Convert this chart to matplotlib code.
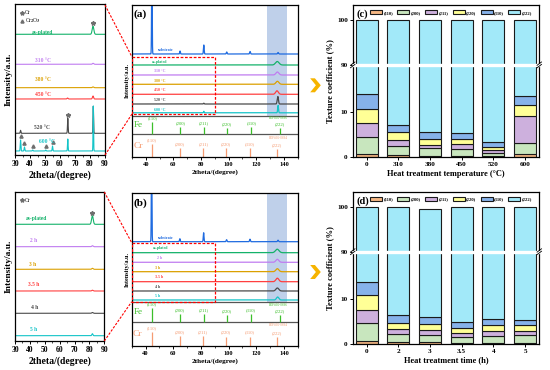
import numpy as np
import matplotlib
matplotlib.use('Agg')
import matplotlib.pyplot as plt
from matplotlib.patches import Polygon, Rectangle
from matplotlib.lines import Line2D
from matplotlib.ticker import MultipleLocator

plt.rcParams['font.family'] = ['Liberation Serif', 'DejaVu Serif']
plt.rcParams['font.weight'] = 'bold'
plt.rcParams['axes.labelweight'] = 'bold'
plt.rcParams['mathtext.fontset'] = 'stix'
plt.rcParams['axes.linewidth'] = 0.9

# ======================= DATA =======================
temp_labels = ['as-plated', '310 °C', '380 °C', '450 °C', '520 °C', '600 °C']
time_labels = ['as-plated', '2 h', '3 h', '3.5 h', '4 h', '5 h']

# peaks (2theta, intensity a.u., fwhm) in the 30-90 deg zoomed patterns
pk_t_asplated = [(82.0, 8.0, 1.3)]
pk_t_310 = [(82.0, 1.0, 1.0)]
pk_t_380 = [(82.0, 0.8, 1.0)]
pk_t_450 = [(65.0, 1.0, 0.8), (82.0, 3.0, 0.9)]
pk_t_520 = [(33.7, 3.0, 0.5), (65.2, 15.0, 0.5), (82.2, 27.0, 0.45)]
pk_t_600 = [(33.7, 11.0, 0.5), (36.3, 4.0, 0.5), (41.8, 1.0, 0.5), (50.5, 1.0, 0.5),
            (55.0, 5.0, 0.5), (65.2, 12.0, 0.45), (82.2, 45.0, 0.4)]
pk_h_asplated = [(82.0, 8.6, 1.3)]
pk_h_2 = [(82.0, 1.0, 1.0)]
pk_h_3 = [(82.0, 1.0, 1.0)]
pk_h_35 = [(82.0, 0.8, 1.0)]
pk_h_4 = [(82.0, 0.8, 1.0)]
pk_h_5 = [(82.0, 2.0, 0.8)]

cr_star_temp = {'as-plated': 82.0, '520 °C': 65.2}
cr2o3_tri_600 = [33.7, 36.3, 41.8, 50.5, 55.0]
cr_star_time = {'as-plated': 82.0}

# peaks in the full 30-150 deg patterns
pk_substrate = [(44.4, 90.0, 0.5), (64.8, 3.0, 0.6), (82.0, 9.0, 0.6),
                (98.6, 2.0, 0.7), (115.5, 2.5, 0.7), (135.8, 1.5, 0.8)]
fa_asplated = [(135.2, 3.5, 3.0)]
fa_310 = [(135.3, 3.0, 2.5)]
fa_380 = [(135.3, 3.0, 2.5)]
fa_450 = [(135.0, 3.5, 2.3)]
fa_520 = [(82.0, 0.8, 0.6), (135.6, 7.5, 1.0)]
fa_600 = [(82.0, 1.5, 0.5), (135.8, 7.5, 0.7)]
fb_asplated = [(135.2, 3.5, 3.0)]
fb_2 = [(135.3, 3.0, 2.5)]
fb_3 = [(135.3, 3.0, 2.5)]
fb_35 = [(135.3, 3.5, 2.5)]
fb_4 = [(135.3, 3.0, 2.5)]
fb_5 = [(135.5, 3.0, 2.0)]

# reference patterns
hkl = ['(110)', '(200)', '(211)', '(220)', '(310)', '(222)']
fe_2theta = [44.7, 65.0, 82.3, 98.9, 116.4, 137.1]
fe_rel = [100, 60, 60, 48, 55, 48]
cr_2theta = [44.4, 64.6, 81.7, 98.2, 115.3, 135.0]
cr_rel = [100, 70, 70, 68, 68, 66]

# texture coefficients (%)
temp_cats = ['0', '310', '380', '450', '520', '600']
tc_t_110 = [0.7, 0.4, 0.3, 0.3, 0.2, 0.7]
tc_t_200 = [3.7, 2.1, 1.6, 1.55, 0.7, 2.4]
tc_t_211 = [3.2, 1.2, 0.8, 0.95, 0.7, 6.1]
tc_t_220 = [3.1, 1.9, 1.3, 1.2, 0.7, 2.4]
tc_t_310 = [3.2, 1.4, 1.5, 1.3, 1.0, 2.0]
tc_t_222 = [86.1, 93.0, 94.5, 94.7, 96.7, 86.4]

time_cats = ['0', '2', '3', '3.5', '4', '5']
tc_h_110 = [0.7, 0.4, 0.4, 0.3, 0.3, 0.3]
tc_h_200 = [3.9, 1.8, 1.6, 1.3, 1.45, 1.6]
tc_h_211 = [3.0, 1.1, 1.0, 0.9, 1.05, 1.0]
tc_h_220 = [3.2, 1.4, 1.5, 1.1, 1.4, 1.3]
tc_h_310 = [3.0, 1.7, 1.4, 1.2, 1.3, 1.2]
tc_h_222 = [86.2, 93.6, 93.6, 95.2, 94.5, 94.6]

# ======================= STYLE / LAYOUT =======================
W, H = 550, 370
fig = plt.figure(figsize=(W / 100, H / 100), dpi=100)

c_as = '#14B26A'
c_310 = '#C07CF0'
c_380 = '#DBA000'
c_450 = '#FF3F3F'
c_520 = '#4A4A4A'
c_600 = '#14C4C8'
c_sub = '#1F6BE0'
trace_colors = [c_as, c_310, c_380, c_450, c_520, c_600]
fe_col = '#3CBF2A'
cr_col = '#F59B72'
bar_colors = ['#F6B783', '#C8E6BE', '#CDB0DD', '#FFFF96', '#86B2EA', '#A2E9F9']
span_col = '#BFD0EA'
marker_col = '#6E6E6E'


def ax_px(x0, y0, x1, y1):
    return fig.add_axes([x0 / W, 1 - y1 / H, (x1 - x0) / W, (y1 - y0) / H])


def gsum(x, peaks):
    y = np.zeros_like(x)
    for c, h, w in peaks:
        s = w / 2.3548
        y += h * np.exp(-0.5 * ((x - c) / s) ** 2)
    return y


def fig_line(p0, p1):
    fig.add_artist(Line2D([p0[0] / W, p1[0] / W], [1 - p0[1] / H, 1 - p1[1] / H],
                          color='red', lw=0.8, ls=(0, (2.2, 1.3))))


def chevron(cx, cy):
    pts = [(cx - 5.3, cy - 7), (cx - 0.6, cy - 7), (cx + 5.3, cy), (cx - 0.6, cy + 7),
           (cx - 5.3, cy + 7), (cx + 0.4, cy)]
    fig.add_artist(Polygon([(x / W, 1 - y / H) for x, y in pts], closed=True,
                           facecolor='#F6B400', edgecolor='none'))


# ---------- left zoom panels ----------
def left_panel(rect, peaks, labels, bases, lab_xy, stars, tris, legend_rows):
    ax = ax_px(*rect)
    ax.set_xlim(30, 90)
    ax.set_ylim(rect[3], rect[1])
    x = np.linspace(30, 90, 3000)
    for pk, lab, b, col, (lx, ly) in zip(peaks, labels, bases, trace_colors, lab_xy):
        ax.plot(x, b - gsum(x, pk), color=col, lw=0.8)
        ax.text(lx, ly, lab, color=col, fontsize=4, ha='center', va='center', fontweight='bold')
        if lab in stars:
            pos = stars[lab]
            ax.plot(pos, b - gsum(np.array([pos]), pk)[0] - 3.2, marker='*', color=marker_col,
                    ms=3.2, ls='none')
    if tris is not None:
        pk, b = tris[1], tris[2]
        for pos in tris[0]:
            ax.plot(pos, b - gsum(np.array([pos]), pk)[0] - 3.5, marker='^', color=marker_col,
                    ms=2.3, ls='none')
    for (mk, txt, yy) in legend_rows:
        ax.plot(34.6, yy, marker=mk, color=marker_col, ms=3.0 if mk == '*' else 2.2, ls='none')
        ax.text(36.8, yy, txt, fontsize=4, va='center', ha='left', fontweight='normal')
    ax.set_yticks([])
    ax.set_xticks(np.arange(30, 91, 10))
    ax.xaxis.set_minor_locator(MultipleLocator(5))
    ax.tick_params(axis='x', which='major', labelsize=5.5, length=2.2, width=0.7, pad=1.5)
    ax.tick_params(axis='x', which='minor', length=1.2, width=0.5)
    ax.set_xlabel('2theta/(degree)', fontsize=7, labelpad=1.5)
    ax.set_ylabel('Intensity/a.u.', fontsize=6.8, labelpad=1.5)
    return ax


# ---------- middle full-range panels ----------
def mid_panel(rect, letter, sub_base, sub_lab, peaks, labels, bases, lab_xy, fe_top, fe_base, dash_box):
    ax = ax_px(*rect)
    ybot, ytop = rect[3], rect[1]
    ax.set_xlim(30, 150)
    ax.set_ylim(ybot, ytop)
    x = np.linspace(30, 150, 8000)
    ax.fill_between([128, 142], fe_top, ytop, color=span_col, lw=0, zorder=0)
    ax.plot(x, sub_base - gsum(x, pk_substrate), color=c_sub, lw=0.9)
    ax.text(sub_lab[0], sub_lab[1], 'substrate', color=c_sub, fontsize=2.9, ha='center',
            va='center', fontweight='bold')
    for pk, lab, b, col, (lx, ly) in zip(peaks, labels, bases, trace_colors, lab_xy):
        ax.plot(x, b - gsum(x, pk), color=col, lw=0.9)
        ax.text(lx, ly, lab, color=col, fontsize=2.9, ha='center', va='center', fontweight='bold')
    # reference sections
    ax.axhline(fe_top, color='#555555', lw=0.9)
    ax.axhline(fe_base, color='#555555', lw=0.9)
    fe_h = (fe_base - fe_top) * 0.67 / 100.0
    cr_h = (ybot - fe_base) * 0.56 / 100.0
    for pos, r, t in zip(fe_2theta, fe_rel, hkl):
        ax.vlines(pos, fe_base, fe_base - r * fe_h, color=fe_col, lw=0.9)
        ax.text(pos, fe_base - r * fe_h - 3.8, t, color=fe_col, fontsize=3.4, ha='center',
                va='center', fontweight='normal')
    for pos, r, t in zip(cr_2theta, cr_rel, hkl):
        ax.vlines(pos, ybot, ybot - r * cr_h, color=cr_col, lw=0.9)
        ax.text(pos, ybot - r * cr_h - 4.0, t, color=cr_col, fontsize=3.4, ha='center',
                va='center', fontweight='normal')
    ax.text(136.3, fe_top + 2.8, 'PDF#06-0696', color=fe_col, fontsize=2.4, ha='center',
            va='center', fontweight='normal')
    ax.text(136.3, fe_base + 3.6, 'PDF#06-0694', color=cr_col, fontsize=2.4, ha='center',
            va='center', fontweight='normal')
    ax.text(34.5, (fe_top + fe_base) / 2, 'Fe', color=fe_col, fontsize=6.5, ha='center',
            va='center', fontweight='normal')
    ax.text(34.5, (fe_base + ybot) / 2, 'Cr', color=cr_col, fontsize=6.8, ha='center',
            va='center', fontweight='normal')
    ax.add_patch(Rectangle((30, dash_box[0]), 60, dash_box[1] - dash_box[0], fill=False,
                           edgecolor='red', lw=0.9, ls=(0, (2.2, 1.3)), zorder=5))
    ax.text(31.2, ytop + 9.5, letter, fontsize=8.2, ha='left', va='center', fontweight='bold')
    ax.set_yticks([])
    ax.set_xticks(np.arange(40, 141, 20))
    ax.xaxis.set_minor_locator(MultipleLocator(10))
    ax.tick_params(axis='x', which='major', labelsize=4.6, length=2.2, width=0.7, pad=1.5)
    ax.tick_params(axis='x', which='minor', length=1.2, width=0.5)
    ax.set_xlabel('2theta/(degree)', fontsize=5.2, labelpad=1.5)
    ax.set_ylabel('Intensity/a.u.', fontsize=4.4, labelpad=1.5)
    return ax


# ---------- broken-axis stacked bars ----------
LO, HI, EPS = 20.4, 90.0, 1e-3
U1 = LO + (HI - LO) * EPS


def fwd(y):
    y = np.asarray(y, dtype=float)
    return np.where(y <= LO, y, np.where(y < HI, LO + (y - LO) * EPS, U1 + (y - HI)))


def inv(u):
    u = np.asarray(u, dtype=float)
    return np.where(u <= LO, u, np.where(u < U1, LO + (u - LO) / EPS, HI + (u - U1)))


def bar_panel(rect, cats, segs, letter, xlabel):
    ax = ax_px(*rect)
    ax.set_yscale('function', functions=(fwd, inv))
    x = np.arange(len(cats))
    bottom = np.zeros(len(cats))
    for seg, col, name in zip(segs, bar_colors, hkl):
        seg = np.asarray(seg, dtype=float)
        ax.bar(x, seg, width=0.69, bottom=bottom, color=col, edgecolor='#1a1a1a', lw=0.8,
               label=name, zorder=2)
        bottom = bottom + seg
    ymax = 103.3
    ax.set_ylim(0, ymax)
    ax.set_xlim(-0.44, 5.45)
    ax.set_yticks([0, 10, 90, 100])
    ax.set_yticklabels(['0', '10', '90', '100'])
    ax.set_xticks(x)
    ax.set_xticklabels(cats)
    ax.tick_params(axis='both', labelsize=5.2, length=2.0, width=0.7, pad=1.5)
    ax.minorticks_off()
    ax.set_ylabel('Texture coefficient (%)', fontsize=6.1, labelpad=2)
    ax.set_xlabel(xlabel, fontsize=6.0, labelpad=2)
    frac = float((fwd(HI) - fwd(0)) / (fwd(ymax) - fwd(0)))
    ax.plot([-0.004, 1.004], [frac, frac], transform=ax.transAxes, color='white', lw=2.4,
            solid_capstyle='butt', clip_on=False, zorder=4)
    for xs in (0.0, 1.0):
        for off in (-0.008, 0.008):
            ax.plot([xs - 0.012, xs + 0.012], [frac + off - 0.011, frac + off + 0.011],
                    transform=ax.transAxes, color='k', lw=0.6, clip_on=False, zorder=5)
    ax.text(0.022, 0.94, letter, transform=ax.transAxes, fontsize=7.6, ha='left', va='center',
            fontweight='bold')
    leg = ax.legend(loc='center left', bbox_to_anchor=(0.093, 0.952), ncol=6, frameon=False,
                    fontsize=3.3, handlelength=2.6, handleheight=1.1, handletextpad=0.3,
                    columnspacing=0.95, borderpad=0, borderaxespad=0)
    for t in leg.get_texts():
        t.set_fontweight('bold')
    return ax


# ======================= DRAW =======================
# top row
left_panel((15, 4, 105, 155),
           [pk_t_asplated, pk_t_310, pk_t_380, pk_t_450, pk_t_520, pk_t_600],
           temp_labels, [34.3, 64.3, 87.7, 99.0, 133.3, 151.0],
           [(48.5, 32.3), (48.9, 61.0), (48.9, 80.0), (48.9, 95.0), (47.8, 128.0), (51.1, 142.0)],
           cr_star_temp, (cr2o3_tri_600, pk_t_600, 151.0),
           [('*', 'Cr', 13.0), ('^', 'Cr$_2$O$_3$', 20.7)])

mid_panel((132, 5, 297.7, 157), '(a)', 54.0, (54.4, 50.0),
          [fa_asplated, fa_310, fa_380, fa_450, fa_520, fa_600], temp_labels,
          [65.0, 75.0, 84.3, 94.3, 104.0, 112.8],
          [(50.2, 61.7), (50.2, 70.7), (50.2, 80.7), (50.2, 90.3), (50.2, 100.0), (50.2, 109.7)],
          115.5, 134.3, (57.0, 114.0))

bar_panel((352.7, 5, 539.3, 157), temp_cats,
          [tc_t_110, tc_t_200, tc_t_211, tc_t_220, tc_t_310, tc_t_222],
          '(c)', 'Heat treatment temperature (°C)')

# bottom row
left_panel((15, 192, 104.3, 341),
           [pk_h_asplated, pk_h_2, pk_h_3, pk_h_35, pk_h_4, pk_h_5],
           time_labels, [224.3, 246.7, 269.3, 291.0, 313.3, 335.7],
           [(44.6, 218.3), (42.3, 241.0), (42.1, 264.0), (42.6, 285.0), (43.4, 307.7), (42.3, 329.3)],
           cr_star_time, None,
           [('*', 'Cr', 200.0)])

mid_panel((131.7, 193.3, 297.7, 345.7), '(b)', 241.7, (54.4, 238.0),
          [fb_asplated, fb_2, fb_3, fb_35, fb_4, fb_5], time_labels,
          [252.7, 262.3, 271.7, 281.7, 291.0, 300.0],
          [(51.1, 248.0), (50.1, 258.0), (48.6, 268.0), (49.7, 277.0), (48.6, 287.0), (48.6, 296.0)],
          301.7, 321.7, (242.7, 301.7))

bar_panel((352.7, 191.7, 539.3, 344), time_cats,
          [tc_h_110, tc_h_200, tc_h_211, tc_h_220, tc_h_310, tc_h_222],
          '(d)', 'Heat treatment time (h)')

# connectors and arrows
fig_line((105, 5), (132, 57))
fig_line((105, 155), (132, 114))
fig_line((104.3, 192), (131.7, 242.7))
fig_line((104.3, 341), (131.7, 301.7))
chevron(315.5, 85.3)
chevron(315.5, 272.0)

fig.savefig('out.png', dpi=100)
